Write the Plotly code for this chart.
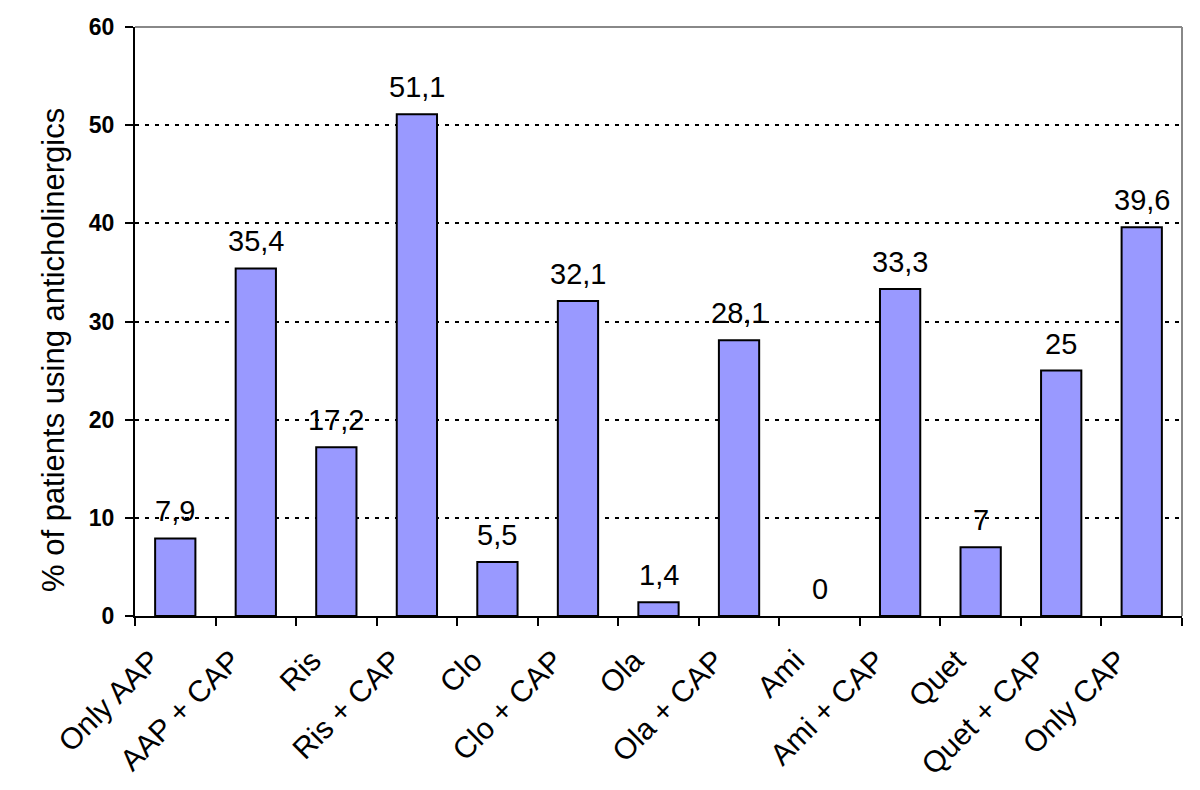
import plotly.graph_objects as go

categories = ["Only AAP", "AAP + CAP", "Ris", "Ris + CAP", "Clo", "Clo + CAP", "Ola",
              "Ola + CAP", "Ami", "Ami + CAP", "Quet", "Quet + CAP", "Only CAP"]
values = [7.9, 35.4, 17.2, 51.1, 5.5, 32.1, 1.4, 28.1, 0, 33.3, 7, 25, 39.6]
y_ticks = [0, 10, 20, 30, 40, 50, 60]

labels = [("%g" % v).replace(".", ",") for v in values]

FONT = "Arial, Liberation Sans, sans-serif"
# page body has an 8px margin; plot area target in page px: x 135..1182, y 27..616
L, R, T, B = 127, 26, 19, 182
PW = 1200 - L - R
PH = 790 - T - B

fig = go.Figure()
fig.add_trace(go.Bar(
    x=categories, y=values,
    marker=dict(color="#9999FF",
                line=dict(color="black", width=[0 if v == 0 else 2 for v in values])),
))
for c, v, t in zip(categories, values, labels):
    fig.add_annotation(x=c, y=v, text=t, showarrow=False, yanchor="bottom",
                       yshift=9, font=dict(family=FONT, size=29, color="black"))

fig.update_layout(
    width=1200, height=790,
    margin=dict(l=L, r=R, t=T, b=B),
    plot_bgcolor="white", paper_bgcolor="white",
    bargap=0.5, showlegend=False,
    font=dict(family=FONT, color="black"),
)
fig.update_xaxes(
    type="category", tickangle=-45, tickson="boundaries",
    ticks="outside", ticklen=8, tickwidth=2, tickcolor="black",
    showline=True, linecolor="black", linewidth=2,
    tickfont=dict(family=FONT, size=30, color="black"),
    ticklabelshift=-24, ticklabelstandoff=13,
    showgrid=False, automargin=False,
)
fig.update_yaxes(
    range=[0, 60], tickvals=y_ticks,
    ticks="outside", ticklen=8, tickwidth=2, tickcolor="black",
    showline=True, linecolor="black", linewidth=2,
    tickfont=dict(family=FONT, size=23, color="black", weight="bold"),
    ticklabelstandoff=6,
    showgrid=True, gridcolor="black", gridwidth=2, griddash="4px,6px",
    zeroline=False, automargin=False,
)
# y-axis title
fig.add_annotation(xref="paper", yref="paper", x=(53 - 135) / PW, y=(616 - 350) / PH,
                   text="% of patients using anticholinergics", textangle=-90,
                   showarrow=False, xanchor="center", yanchor="middle",
                   font=dict(family=FONT, size=31, color="black"))
# gray frame on top and right
fig.add_shape(type="line", xref="paper", yref="paper", x0=0, x1=1, y0=1, y1=1,
              line=dict(color="#888888", width=2))
fig.add_shape(type="line", xref="paper", yref="paper", x0=1, x1=1, y0=0, y1=1,
              line=dict(color="#888888", width=2))

fig.write_html("out.html")
